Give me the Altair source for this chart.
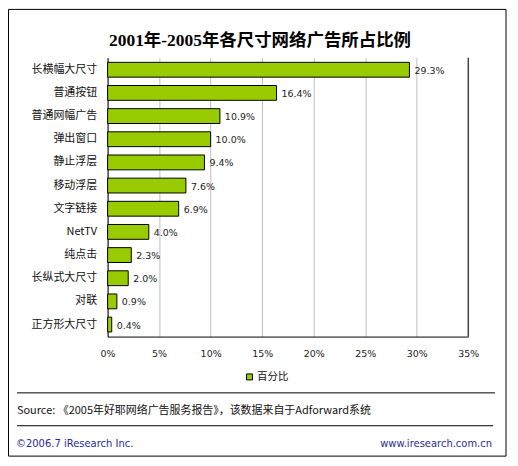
import altair as alt
import pandas as pd

categories = ["长横幅大尺寸", "普通按钮", "普通网幅广告", "弹出窗口", "静止浮层", "移动浮层",
              "文字链接", "NetTV", "纯点击", "长纵式大尺寸", "对联", "正方形大尺寸"]
values = [0.293, 0.164, 0.109, 0.100, 0.094, 0.076, 0.069, 0.040, 0.023, 0.020, 0.009, 0.004]
x_ticks = [0, 0.05, 0.10, 0.15, 0.20, 0.25, 0.30, 0.35]
title_text = "2001年-2005年各尺寸网络广告所占比例"
legend_text = "百分比"
source_text = "Source: 《2005年好耶网络广告服务报告》，该数据来自于Adforward系统"
footer_left = "©2006.7 iResearch Inc."
footer_right = "www.iresearch.com.cn"

df = pd.DataFrame({"cat": categories, "val": values})

W, H = 362, 280
GREEN = "#99CC00"
CJK = "Noto Sans CJK SC"
LAT = "DejaVu Sans"

xscale = alt.Scale(domain=[0, 0.35], nice=False)
yscale = alt.Scale(paddingInner=0.36, paddingOuter=0.2)

base = alt.Chart(df)

bars = base.mark_bar(color=GREEN, stroke="black", strokeWidth=1).encode(
    x=alt.X("val:Q", scale=xscale,
            axis=alt.Axis(values=x_ticks, format=".0%", title=None, grid=True,
                          gridColor="#c0c0c0", gridWidth=1, domainColor="black",
                          ticks=False, labelPadding=12, labelFont=LAT, labelFontSize=9.5,
                          labelColor="#222222", labelFlush=False)),
    y=alt.Y("cat:N", sort=categories, scale=yscale,
            axis=alt.Axis(title=None, ticks=False, domainColor="black", labelPadding=11,
                          labelFont=CJK, labelFontSize=11, labelColor="#111111")),
)

labels = base.mark_text(align="left", baseline="middle", dx=5, dy=1, font=LAT,
                        fontSize=9.5, color="#222222").encode(
    x=alt.X("val:Q", scale=xscale),
    y=alt.Y("cat:N", sort=categories, scale=yscale),
    text=alt.Text("val:Q", format=".1%"),
)

one = alt.Chart(pd.DataFrame({"k": [0]}))

right_rule = one.mark_rule(color="black").encode(
    x=alt.value(W), y=alt.value(0), y2=alt.value(H))

border = one.mark_rect(fill=None, stroke="black", strokeWidth=1).encode(
    x=alt.value(-99.5), x2=alt.value(400), y=alt.value(-48.5), y2=alt.value(400))

title = one.mark_text(text=title_text, font="Liberation Serif, " + CJK, fontSize=17.5,
                      fontWeight="bold", align="center", baseline="middle",
                      color="black").encode(x=alt.value(153), y=alt.value(-17))

legend_sq = one.mark_rect(fill=GREEN, stroke="black", strokeWidth=1).encode(
    x=alt.value(139.5), x2=alt.value(145.5), y=alt.value(317.5), y2=alt.value(323.5))
legend_tx = one.mark_text(text=legend_text, font=CJK, fontSize=10.5, align="left",
                          baseline="middle", color="#111111").encode(
    x=alt.value(150), y=alt.value(321))

sep1 = one.mark_rule(color="black").encode(
    x=alt.value(-91), x2=alt.value(389), y=alt.value(336.5))
sep2 = one.mark_rule(color="black").encode(
    x=alt.value(-91), x2=alt.value(387), y=alt.value(369.5))

src = one.mark_text(text=source_text, font=CJK, fontSize=11, align="left",
                    baseline="middle", color="#111111").encode(
    x=alt.value(-91), y=alt.value(355))

foot_l = one.mark_text(text=footer_left, font=LAT, fontSize=10, align="left",
                       baseline="middle", color="#1f2b99").encode(
    x=alt.value(-92), y=alt.value(388))
foot_r = one.mark_text(text=footer_right, font=LAT, fontSize=10, align="right",
                       baseline="middle", color="#1f2b99").encode(
    x=alt.value(386), y=alt.value(388))

chart = alt.layer(
    bars, labels, right_rule, border, title, legend_sq, legend_tx, sep1, sep2, src,
    foot_l, foot_r
).properties(
    width=W, height=H,
    autosize=alt.AutoSizeParams(type="none"),
    padding={"left": 100, "top": 49, "right": 42, "bottom": 124},
    background="white",
).configure_view(stroke=None)

chart.save("out.html", embed_options={"renderer": "svg", "actions": False})
